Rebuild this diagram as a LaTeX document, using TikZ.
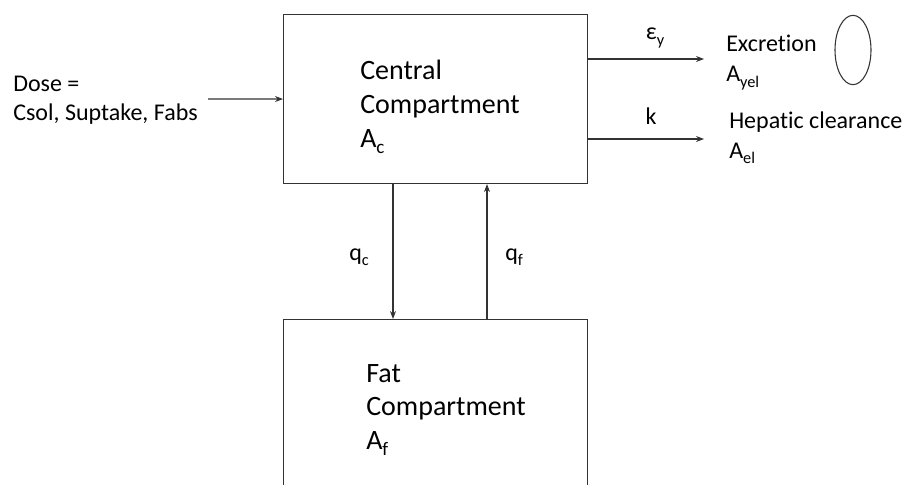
\documentclass[tikz,border=0pt]{standalone}
\usepackage{fontspec}
\setmainfont{Carlito}[Ligatures=NoCommon]
\usetikzlibrary{arrows.meta,shapes.geometric}
\newcommand{\lowtxt}[1]{\raisebox{-0.45ex}{\scalebox{0.68}{#1}}}
\begin{document}
\begin{tikzpicture}[x=0.75pt,y=-0.75pt,
  box/.style={draw=black!80, line width=0.8pt, rectangle, inner sep=0pt, anchor=north west, minimum width=228pt},
  big/.style={inner sep=0pt, anchor=base west, font=\fontsize{21}{25.2}\selectfont},
  small/.style={inner sep=0pt, anchor=base west, font=\fontsize{18}{22}\selectfont},
  csmall/.style={inner sep=0pt, anchor=base, font=\fontsize{18}{22}\selectfont},
  arr/.style={draw=black!80, line width=0.8pt, -{Stealth[length=6pt,width=4.5pt]}},
  oval/.style={draw=black!80, line width=0.8pt, ellipse, inner sep=0pt, minimum width=27pt, minimum height=52pt}]
\useasboundingbox (0,0) rectangle (904,485);
\clip (0,0) rectangle (904,485);
% boxes
\node[box, minimum height=126.75pt] (central) at (283,14) {};
\node[box, minimum height=135pt] (fat) at (283,319) {};
% box texts
\node[big] (ctext) at (360,80) {\vtop{\hbox{Central}\hbox{Compartment}\hbox{A\lowtxt{c}}}};
\node[big] (ftext) at (366,382) {\vtop{\hbox{Fat}\hbox{Compartment}\hbox{A\lowtxt{f}}}};
% dose
\node[small] (dose) at (13,92) {\vtop{\baselineskip=21.6pt\hbox{Dose =}\hbox{Csol, Suptake, Fabs}}};
\coordinate (dosestart) at (208,99);
\draw[arr] (dosestart) -- (central.west);
% outputs
\coordinate (exend) at (704,59);
\coordinate (hepend) at (704,139);
\draw[arr] (central.east |- exend) -- (exend);
\draw[arr] (central.east |- hepend) -- (hepend);
\node[csmall] (eps) at (655,40) {ε\lowtxt{y}};
\node[csmall] (k) at (651,125) {k};
\node[small] (excr) at (726,52) {\vtop{\baselineskip=22.5pt\hbox{Excretion}\hbox{A\lowtxt{yel}}}};
\node[small] (hep) at (729,128) {\vtop{\baselineskip=22.5pt\hbox{Hepatic clearance}\hbox{A\lowtxt{el}}}};
\node[oval] (ov) at (853,50) {};
% exchange arrows
\coordinate (qcx) at (393,0);
\coordinate (qfx) at (487,0);
\draw[arr] (central.south -| qcx) -- (fat.north -| qcx);
\draw[arr] (fat.north -| qfx) -- (central.south -| qfx);
\node[small] (qc) at (349,260) {q\lowtxt{c}};
\node[small] (qf) at (505,260) {q\lowtxt{f}};
\end{tikzpicture}
\end{document}
